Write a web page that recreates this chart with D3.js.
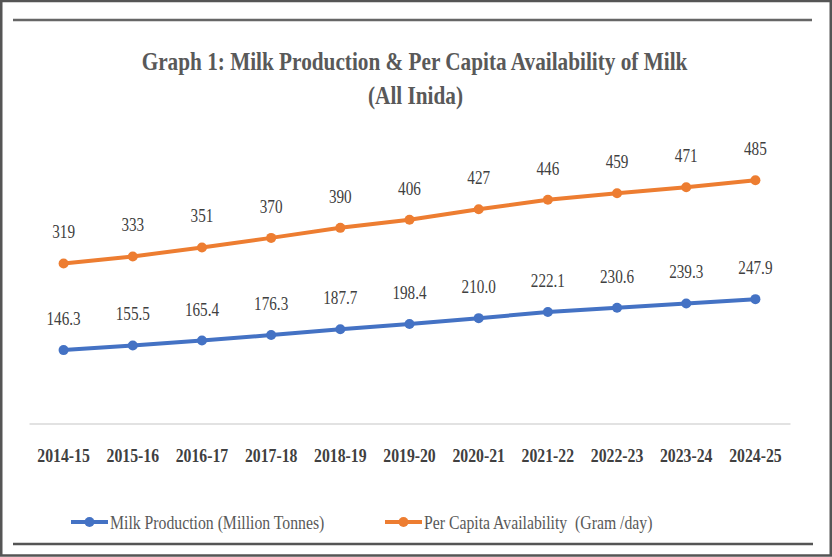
<!DOCTYPE html>
<html>
<head>
<meta charset="utf-8">
<script src="https://cdn.jsdelivr.net/npm/d3@7/dist/d3.min.js"></script>
<style>
  html, body { margin: 0; padding: 0; background: #fff; }
  svg { display: block; }
  text { font-family: "Liberation Serif", "Times New Roman", serif; }
</style>
</head>
<body>
<svg id="chart" width="832" height="557"></svg>
<script>
const categories = ["2014-15","2015-16","2016-17","2017-18","2018-19","2019-20","2020-21","2021-22","2022-23","2023-24","2024-25"];
const milkProduction = [146.3,155.5,165.4,176.3,187.7,198.4,210.0,222.1,230.6,239.3,247.9];
const perCapita = [319,333,351,370,390,406,427,446,459,471,485];
const seriesNames = ["Milk Production (Million Tonnes)", "Per Capita Availability  (Gram /day)"];
const titleLines = ["Graph 1: Milk Production & Per Capita Availability of Milk", "(All Inida)"];

const svg = d3.select("#chart");
const blue = "#4472C4", orange = "#ED7D31";

// frame
svg.append("rect").attr("x", 1.25).attr("y", 1).attr("width", 829.5).attr("height", 554.5)
  .attr("fill", "#fff").attr("stroke", "#555").attr("stroke-width", 2.5);
svg.append("line").attr("x1", 13).attr("x2", 812).attr("y1", 20).attr("y2", 20)
  .attr("stroke", "#666").attr("stroke-width", 2.5);
svg.append("line").attr("x1", 13).attr("x2", 813).attr("y1", 544).attr("y2", 544)
  .attr("stroke", "#555").attr("stroke-width", 2.5);

function squeezedText(sel, x, y, str, size, sx, opts) {
  return sel.append("text")
    .attr("transform", `translate(${x},${y}) scale(${sx},1)`)
    .attr("font-size", size)
    .attr("text-anchor", opts.anchor || "middle")
    .attr("fill", opts.fill || "#404040")
    .attr("font-weight", opts.weight || "normal")
    .style("white-space", "pre")
    .text(str);
}
// title
squeezedText(svg, 414.5, 69.5, titleLines[0], 25, 0.85, {weight: "bold", fill: "#595959"});
squeezedText(svg, 415.5, 104, titleLines[1], 25, 0.85, {weight: "bold", fill: "#595959"});

// scales
const x = d3.scaleBand().domain(categories).range([29, 790]).paddingInner(0).paddingOuter(0);
const y = d3.scaleLinear().domain([0, 600]).range([423.5, 122.5]);
const cx = d => x(d) + x.bandwidth() / 2;

// x axis
const axis = svg.append("g").attr("transform", `translate(0,${y(0)})`)
  .call(d3.axisBottom(x).tickSize(0).tickSizeOuter(0));
axis.select(".domain").attr("stroke", "#d9d9d9").attr("stroke-width", 1.3);
axis.selectAll(".tick text")
  .attr("y", 0).attr("dy", 0)
  .attr("transform", "translate(0,38) scale(0.83,1)")
  .attr("font-size", 19).attr("font-weight", "bold")
  .style("font-family", "'Liberation Serif', 'Times New Roman', serif")
  .attr("fill", "#404040");

// lines
const series = [
  {values: milkProduction, color: blue, fmt: d3.format(".1f")},
  {values: perCapita, color: orange, fmt: d3.format("d")}
];
const lineGen = d3.line().x((d, i) => cx(categories[i])).y(d => y(d));
series.forEach(s => {
  const g = svg.append("g");
  g.append("path").datum(s.values).attr("d", lineGen)
    .attr("fill", "none").attr("stroke", s.color).attr("stroke-width", 4)
    .attr("stroke-linejoin", "round");
  g.selectAll("circle").data(s.values).join("circle")
    .attr("cx", (d, i) => cx(categories[i])).attr("cy", d => y(d))
    .attr("r", 5).attr("fill", s.color);
  s.values.forEach((v, i) => {
    squeezedText(g, cx(categories[i]), y(v) - 25, s.fmt(v), 19, 0.8, {fill: "#404040"});
  });
});

// legend
const legendItems = [
  {x1: 71, x2: 108, color: blue, text: seriesNames[0], tx: 110},
  {x1: 385, x2: 422, color: orange, text: seriesNames[1], tx: 424}
];
const ly = 522;
legendItems.forEach(it => {
  svg.append("line").attr("x1", it.x1).attr("x2", it.x2).attr("y1", ly).attr("y2", ly)
    .attr("stroke", it.color).attr("stroke-width", 4);
  svg.append("circle").attr("cx", (it.x1 + it.x2) / 2).attr("cy", ly).attr("r", 5).attr("fill", it.color);
  squeezedText(svg, it.tx, ly + 7, it.text, 19, 0.83, {anchor: "start", fill: "#595959"});
});
</script>
</body>
</html>
